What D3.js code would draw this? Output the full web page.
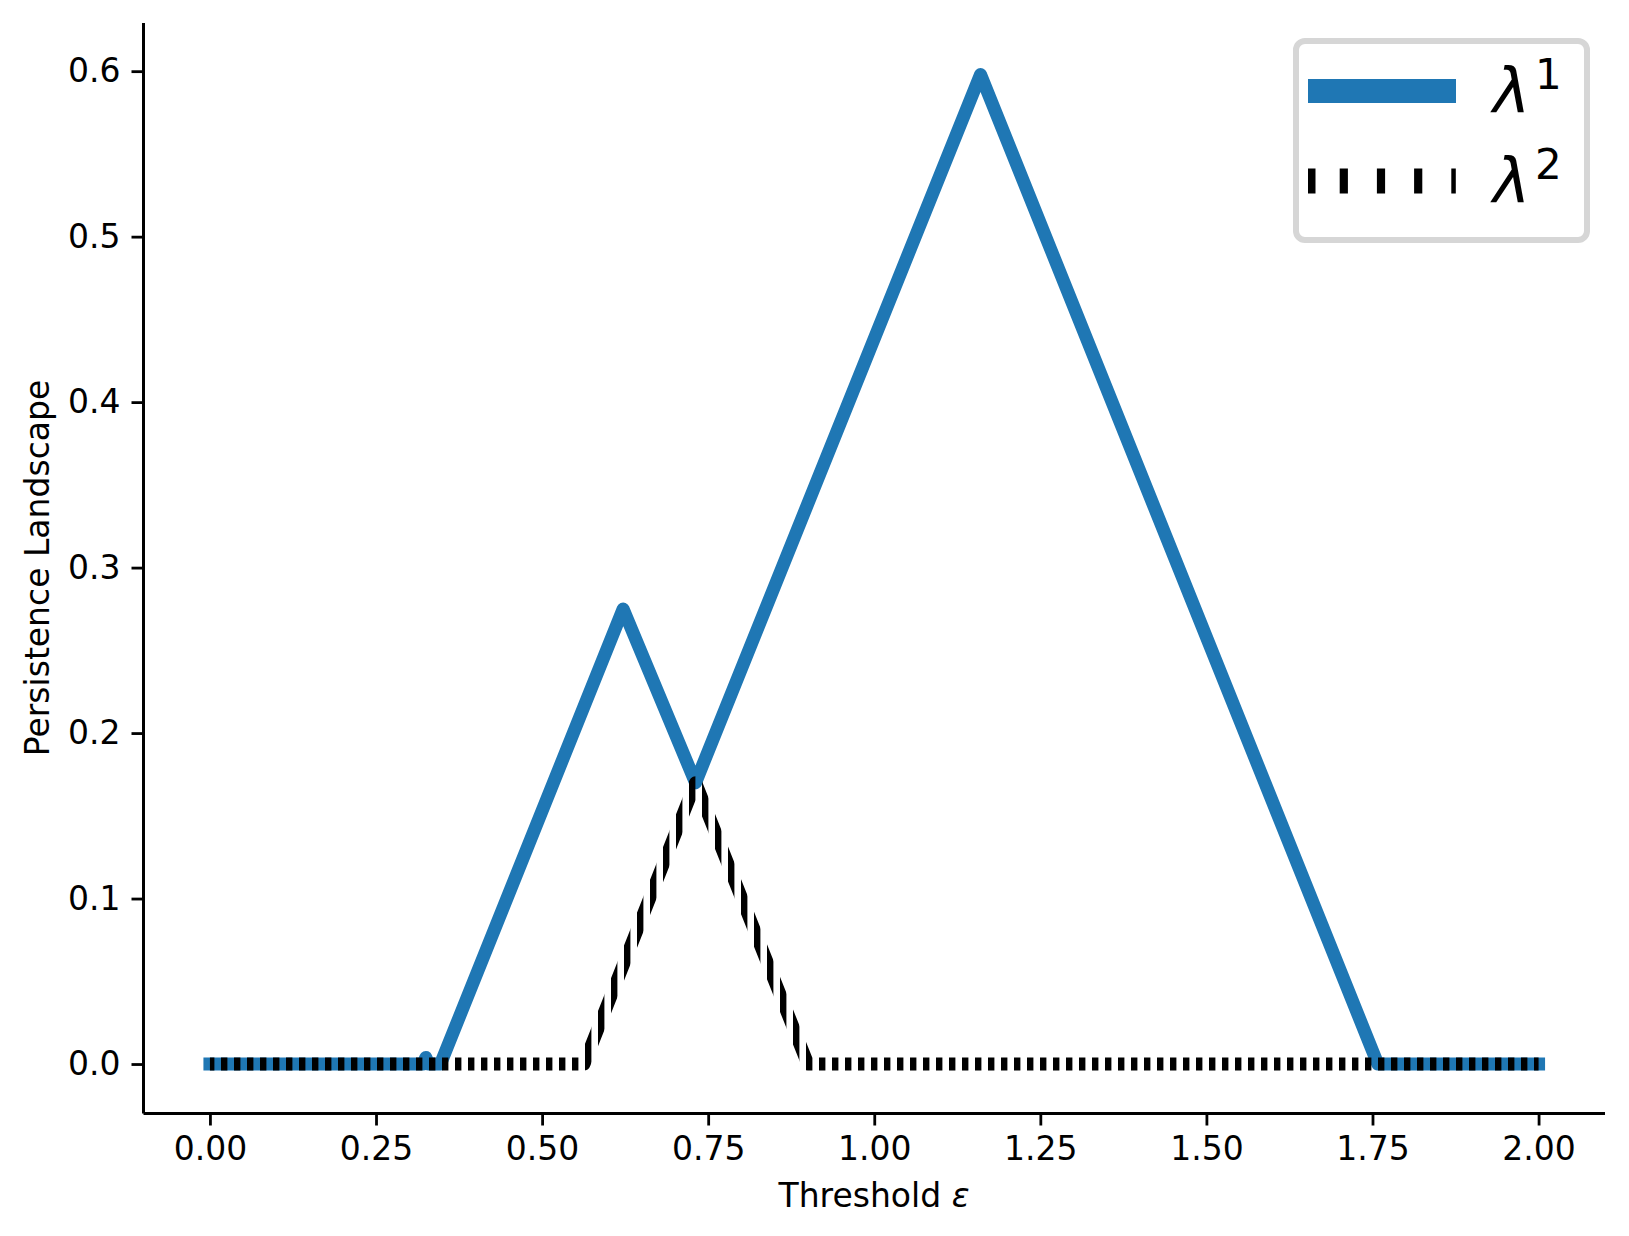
<!DOCTYPE html>
<html>
<head>
<meta charset="utf-8">
<script src="https://cdn.jsdelivr.net/npm/d3@7"></script>
<style>
  html, body { margin: 0; padding: 0; background: #fff; }
  svg { display: block; }
  text { font-family: "DejaVu Sans", sans-serif; fill: #000; }
</style>
</head>
<body>
<svg id="chart" width="1629" height="1236"></svg>
<script>
// ---- data ----
const lambda1X = [0, 0.321, 0.325, 0.329, 0.347, 0.622, 0.731, 1.160, 1.758, 2.0];
const lambda1Y = [0, 0, 0.004, 0, 0, 0.275, 0.170, 0.598, 0, 0];
const lambda2X = [0, 0.563, 0.731, 0.900, 2.0];
const lambda2Y = [0, 0, 0.170, 0, 0];
const xTicks = [0, 0.25, 0.5, 0.75, 1.0, 1.25, 1.5, 1.75, 2.0];
const yTicks = [0, 0.1, 0.2, 0.3, 0.4, 0.5, 0.6];
const legendLabels = ["1", "2"];

const svg = d3.select("#chart");
svg.append("rect").attr("width", 1629).attr("height", 1236).attr("fill", "#fff");

const x = d3.scaleLinear().domain([-0.1, 2.1]).range([143.5, 1605]);
const y = d3.scaleLinear().domain([-0.0299, 0.6279]).range([1113.5, 25]);

const l1 = lambda1X.map((v, i) => ({x: v, y: lambda1Y[i]}));
const l2 = lambda2X.map((v, i) => ({x: v, y: lambda2Y[i]}));

// vertical stripe pattern used to paint the dotted λ2 curve
const defs = svg.append("defs");
const pat = defs.append("pattern")
  .attr("id", "stripes")
  .attr("patternUnits", "userSpaceOnUse")
  .attr("x", 208).attr("y", 0)
  .attr("width", 13.0).attr("height", 1236);
pat.append("rect").attr("x", 0).attr("y", 0).attr("width", 6.4).attr("height", 1236).attr("fill", "#000");

const line = d3.line().x(d => x(d.x)).y(d => y(d.y));

// λ1 line
svg.append("path")
  .datum(l1)
  .attr("d", line)
  .attr("fill", "none")
  .attr("stroke", "#1f77b4")
  .attr("stroke-width", 13)
  .attr("stroke-linejoin", "round")
  .attr("stroke-linecap", "square");

// λ2 line (stroke painted with vertical stripes)
svg.append("path")
  .datum(l2)
  .attr("d", line)
  .attr("fill", "none")
  .attr("stroke", "url(#stripes)")
  .attr("stroke-width", 13)
  .attr("stroke-linejoin", "round")
  .attr("stroke-linecap", "butt");

// axes
const FS = 33;
const xAxis = d3.axisBottom(x).tickValues(xTicks).tickFormat(d3.format(".2f")).tickSize(12).tickPadding(11);
const gx = svg.append("g").attr("transform", "translate(0,1113.5)").call(xAxis);
gx.select(".domain").attr("d", "M143.5,0H1605").attr("stroke", "#000").attr("stroke-width", 3);
gx.selectAll(".tick line").attr("stroke", "#000").attr("stroke-width", 2.8);
gx.selectAll(".tick text").attr("font-size", FS).attr("font-family", "DejaVu Sans").attr("fill", "#000");

const yAxis = d3.axisLeft(y).tickValues(yTicks).tickFormat(d3.format(".1f")).tickSize(12).tickPadding(11);
const gy = svg.append("g").attr("transform", "translate(143.5,0)").call(yAxis);
gy.select(".domain").attr("d", "M0,23V1113.5").attr("stroke", "#000").attr("stroke-width", 3);
gy.selectAll(".tick line").attr("stroke", "#000").attr("stroke-width", 2.8);
gy.selectAll(".tick text").attr("font-size", FS).attr("font-family", "DejaVu Sans").attr("fill", "#000");

// axis labels
const xl = svg.append("text").attr("x", 874).attr("y", 1207).attr("text-anchor", "middle").attr("font-size", FS);
xl.append("tspan").text("Threshold ");
xl.append("tspan").attr("font-style", "italic").text("ε");

svg.append("text")
  .attr("transform", "translate(49,568) rotate(-90)")
  .attr("text-anchor", "middle")
  .attr("font-size", FS)
  .text("Persistence Landscape");

// legend
const lg = svg.append("g");
lg.append("rect")
  .attr("x", 1296).attr("y", 41).attr("width", 291).attr("height", 199)
  .attr("rx", 9).attr("ry", 9)
  .attr("fill", "#fff").attr("stroke", "#d6d6d6").attr("stroke-width", 6);
lg.append("line")
  .attr("x1", 1308).attr("x2", 1456).attr("y1", 91).attr("y2", 91)
  .attr("stroke", "#1f77b4").attr("stroke-width", 24);
lg.append("line")
  .attr("x1", 1308).attr("x2", 1456).attr("y1", 181).attr("y2", 181)
  .attr("stroke", "#000").attr("stroke-width", 25)
  .attr("stroke-dasharray", "7.5,24.2,8.2,29,8.2,29,8.2,29,4.5");
const baselines = [112, 202];
legendLabels.forEach((s, i) => {
  lg.append("text").attr("x", 1493).attr("y", baselines[i]).attr("font-size", 63).attr("font-style", "italic").text("λ");
  lg.append("text").attr("x", 1535).attr("y", baselines[i] - 23).attr("font-size", 42).text(s);
});
</script>
</body>
</html>
